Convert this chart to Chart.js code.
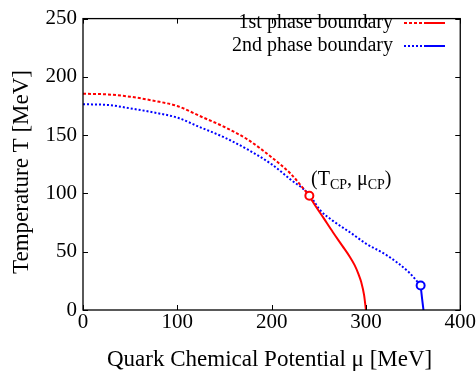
<!DOCTYPE html>
<html><head><meta charset="utf-8">
<script src="https://cdn.jsdelivr.net/npm/chart.js@4"></script>
<style>html,body{margin:0;padding:0;background:#fff}#c{display:block}</style>
</head><body>
<canvas id="c" width="476" height="381"></canvas>
<script>
// ---- data ----
const xTicks = [0, 100, 200, 300, 400];
const yTicks = [0, 50, 100, 150, 200, 250];
// red crossover (dashed) part
const redCrossMu = [0, 25, 50, 75, 100, 125, 150, 175, 200, 220, 240];
const redCrossT  = [185.5, 185, 183, 179.5, 175, 166, 157, 146, 131, 117, 98];
// red first-order (solid) part
const redFirstMu = [240, 243.5, 255, 265, 275, 283, 288, 292, 295, 298, 300];
const redFirstT  = [98, 93, 79, 66.7, 55, 45.5, 38.5, 31, 24, 13, 0];
// blue second-order (dotted) part
const blueDotMu = [0, 25, 50, 75, 100, 125, 150, 175, 200, 220, 240, 251, 265, 283, 300, 322, 346, 358];
const blueDotT  = [176.5, 176, 173, 169.5, 165, 156.5, 148, 137.5, 125, 112, 99, 86, 76.5, 66.7, 57, 47, 32, 21];
// blue solid end
const blueEndMu = [358, 359.5, 361];
const blueEndT  = [21, 10, 0];
// markers
const cpMu = [240], cpT = [98];
const endMu = [358], endT = [21];
const legendLabels = ['1st phase boundary', '2nd phase boundary'];
const xTitle = 'Quark Chemical Potential \u03bc [MeV]';
const yTitle = 'Temperature T [MeV]';

const pts = (xs, ys) => xs.map((x, i) => ({x, y: ys[i]}));
const RED = '#ff0000', BLUE = '#0000ff';
const FONT = '"Liberation Serif", "Times New Roman", serif';

const lineDs = (data, color, dash) => ({
  data, borderColor: color, borderWidth: 2, borderDash: dash, pointRadius: 0,
  fill: false, cubicInterpolationMode: 'monotone', order: 2
});

const decor = {
  id: 'decor',
  afterDatasetsDraw(chart) {
    const ctx = chart.ctx, a = chart.chartArea;
    const xs = chart.scales.x, ys = chart.scales.y;
    ctx.save();
    ctx.strokeStyle = '#000'; ctx.lineWidth = 1.3; ctx.setLineDash([]);
    ctx.strokeRect(a.left, a.top, a.right - a.left, a.bottom - a.top);
    const tl = 5;
    ctx.beginPath();
    xTicks.forEach(v => { const p = Math.round(xs.getPixelForValue(v)) + 0.5;
      ctx.moveTo(p, a.bottom); ctx.lineTo(p, a.bottom - tl);
      ctx.moveTo(p, a.top); ctx.lineTo(p, a.top + tl); });
    yTicks.forEach(v => { const p = Math.round(ys.getPixelForValue(v)) + 0.5;
      ctx.moveTo(a.left, p); ctx.lineTo(a.left + tl, p);
      ctx.moveTo(a.right, p); ctx.lineTo(a.right - tl, p); });
    ctx.lineWidth = 1; ctx.stroke();

    // titles
    ctx.fillStyle = '#000';
    ctx.font = '23px ' + FONT;
    ctx.textAlign = 'center'; ctx.textBaseline = 'alphabetic';
    ctx.fillText(xTitle, (a.left + a.right) / 2 - 2, 366);
    ctx.save();
    ctx.translate(28, 172); ctx.rotate(-Math.PI / 2);
    ctx.fillText(yTitle, 0, 0);
    ctx.restore();

    // legend
    ctx.font = '20px ' + FONT;
    ctx.textAlign = 'right'; ctx.textBaseline = 'middle';
    const ly = [23, 46], cols = [RED, BLUE], dashes = [[3, 2], [2, 2]];
    legendLabels.forEach((t, i) => {
      ctx.fillStyle = '#000';
      ctx.fillText(t, 393, ly[i]);
      ctx.strokeStyle = cols[i]; ctx.lineWidth = 2;
      ctx.setLineDash(dashes[i]);
      ctx.beginPath(); ctx.moveTo(404, ly[i]); ctx.lineTo(424, ly[i]); ctx.stroke();
      ctx.setLineDash([]);
      ctx.beginPath(); ctx.moveTo(424, ly[i]); ctx.lineTo(445, ly[i]); ctx.stroke();
    });

    // CP label
    ctx.fillStyle = '#000'; ctx.textAlign = 'left'; ctx.textBaseline = 'alphabetic';
    let x = 311; const by = 185;
    const parts = [['(T', 20, 0], ['CP', 14, 4], [', \u03bc', 20, 0], ['CP', 14, 4], [')', 20, 0]];
    parts.forEach(([t, s, dy]) => {
      ctx.font = s + 'px ' + FONT;
      ctx.fillText(t, x, by + dy);
      x += ctx.measureText(t).width;
    });
    ctx.restore();
  }
};

new Chart(document.getElementById('c'), {
  type: 'line',
  data: { datasets: [
    {data: pts(cpMu, cpT), showLine: false, pointRadius: 4, pointBorderWidth: 2,
     pointBorderColor: RED, pointBackgroundColor: '#fff', order: 0},
    {data: pts(endMu, endT), showLine: false, pointRadius: 4, pointBorderWidth: 2,
     pointBorderColor: BLUE, pointBackgroundColor: '#fff', order: 0},
    lineDs(pts(redCrossMu, redCrossT), RED, [3, 2]),
    lineDs(pts(redFirstMu, redFirstT), RED, []),
    lineDs(pts(blueDotMu, blueDotT), BLUE, [2, 2]),
    lineDs(pts(blueEndMu, blueEndT), BLUE, [])
  ]},
  options: {
    responsive: false, animation: false, events: [],
    layout: { padding: { left: 0, right: 15, top: 12, bottom: 0 } },
    plugins: { legend: { display: false }, tooltip: { enabled: false } },
    scales: {
      x: { type: 'linear', min: 0, max: 400,
        afterBuildTicks: s => { s.ticks = xTicks.map(v => ({value: v})); },
        afterFit: s => { s.height = 71; },
        grid: { display: false, drawTicks: false }, border: { display: false },
        ticks: { color: '#000', font: { family: FONT, size: 21 }, padding: 0, maxRotation: 0 } },
      y: { type: 'linear', min: 0, max: 250,
        afterBuildTicks: s => { s.ticks = yTicks.map(v => ({value: v})); },
        afterFit: s => { s.width = 83; },
        grid: { display: false, drawTicks: false }, border: { display: false },
        ticks: { color: '#000', font: { family: FONT, size: 21 }, padding: 6 } }
    }
  },
  plugins: [decor]
});
</script>
</body></html>
